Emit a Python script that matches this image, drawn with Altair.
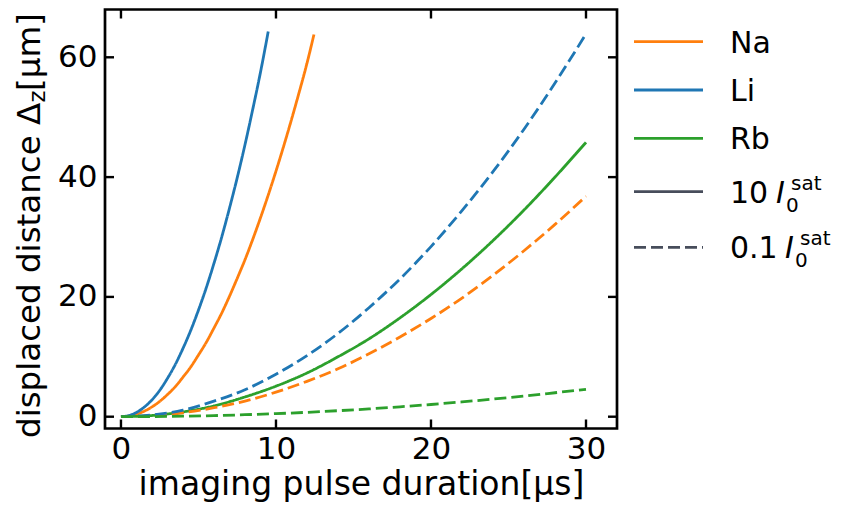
import altair as alt
import pandas as pd

# ---------------- data ----------------
species = ["Na", "Li", "Rb"]
colors = ["#ff7f0e", "#1f77b4", "#2ca02c"]
intensities = ["10", "0.1"]

x_ticks = [0, 10, 20, 30]
y_ticks = [0, 20, 40, 60]

# Li, 10 I_sat (solid blue)
t_li_high = [0, 0.5, 1, 1.5, 2, 2.5, 3, 3.5, 4, 4.5, 5, 5.5, 6, 6.5, 7, 7.5, 8, 8.5, 9, 9.5]
z_li_high = [0, 0.18, 0.71, 1.6, 2.8, 4.4, 6.4, 8.7, 11.4, 14.4, 17.8, 21.5, 25.6, 30.0,
             34.8, 39.9, 45.4, 51.3, 57.5, 64.3]

# Na, 10 I_sat (solid orange)
t_na_high = [0, 0.5, 1, 1.5, 2, 2.5, 3, 3.5, 4, 4.5, 5, 5.5, 6, 6.5, 7, 7.5, 8, 8.5, 9, 9.5,
             10, 10.5, 11, 11.5, 12, 12.45]
z_na_high = [0, 0.1, 0.41, 0.92, 1.64, 2.56, 3.7, 5.0, 6.6, 8.3, 10.3, 12.4, 14.8, 17.3, 20.1,
             23.1, 26.2, 29.6, 33.2, 37.0, 41.0, 45.2, 49.6, 54.2, 59.0, 63.8]

# long pulses (0 .. 30 us)
t_long = [0, 2, 4, 6, 8, 10, 12, 14, 16, 18, 20, 22, 24, 26, 28, 30]
z_rb_high = [0, 0.2, 0.8, 1.8, 3.3, 5.1, 7.3, 10.0, 13.0, 16.5, 20.4, 24.7, 29.4, 34.5, 40.0, 45.8]
z_li_low = [0, 0.28, 1.1, 2.6, 4.5, 7.1, 10.2, 13.9, 18.2, 23.0, 28.4, 34.4, 40.9, 48.0, 55.7, 63.9]
z_na_low = [0, 0.16, 0.66, 1.5, 2.6, 4.1, 5.9, 8.0, 10.5, 13.3, 16.4, 19.8, 23.6, 27.7, 32.1, 36.8]
z_rb_low = [0, 0.02, 0.08, 0.18, 0.33, 0.51, 0.73, 1.0, 1.3, 1.65, 2.04, 2.47, 2.94, 3.45, 4.0, 4.56]

rows = []


def add(ts, zs, sp, inten):
    for t, z in zip(ts, zs):
        rows.append({"t": t, "z": z, "species": sp, "intensity": inten})


add(t_na_high, z_na_high, "Na", "10")
add(t_li_high, z_li_high, "Li", "10")
add(t_long, z_rb_high, "Rb", "10")
add(t_long, z_na_low, "Na", "0.1")
add(t_long, z_li_low, "Li", "0.1")
add(t_long, z_rb_low, "Rb", "0.1")
df = pd.DataFrame(rows)
df["series"] = df["species"] + "_" + df["intensity"]

# ---------------- layout ----------------
W, H = 512, 419
FONT = "DejaVu Sans"
xscale = alt.Scale(domain=[-1.03, 32.0], nice=False, zero=False)
yscale = alt.Scale(domain=[-1.97, 67.98], nice=False, zero=False)
DASH = [12, 5]
LW = 2.8

xaxis = alt.Axis(values=x_ticks, title="imaging pulse duration[μs]", format="d",
                 labelFontSize=31, labelPadding=6, titleFontSize=33, titlePadding=4)
yaxis = alt.Axis(values=y_ticks, title=None, format="d", labelFontSize=31, labelPadding=8)

lines = alt.Chart(df).mark_line(strokeWidth=LW, interpolate="monotone", clip=True).encode(
    x=alt.X("t:Q", scale=xscale, axis=xaxis),
    y=alt.Y("z:Q", scale=yscale, axis=yaxis),
    color=alt.Color("species:N", scale=alt.Scale(domain=species, range=colors), legend=None),
    strokeDash=alt.StrokeDash("intensity:N", scale=alt.Scale(domain=intensities, range=[[1, 0], DASH]),
                              legend=None),
    detail="series:N",
    order=alt.Order("t:Q"),
)

xt = pd.DataFrame({"t": x_ticks})
yt = pd.DataFrame({"z": y_ticks})
TK = 9


def xtick(y1, y2):
    return alt.Chart(xt).mark_rule(color="black", strokeWidth=2.4).encode(
        x=alt.X("t:Q", scale=xscale, axis=xaxis), y=alt.value(y1), y2=alt.value(y2))


def ytick(x1, x2):
    return alt.Chart(yt).mark_rule(color="black", strokeWidth=2.4).encode(
        y=alt.Y("z:Q", scale=yscale, axis=yaxis), x=alt.value(x1), x2=alt.value(x2))


one = pd.DataFrame({"k": [0]})


def txt(s, x, y, size, angle=0, style="normal", align="left"):
    return alt.Chart(one).mark_text(text=s, font=FONT, fontSize=size, fontStyle=style, align=align,
                                    baseline="alphabetic", angle=angle, color="black").encode(
        x=alt.value(x), y=alt.value(y))


def seg(y, color, dashed=False):
    if dashed:
        m = alt.Chart(one).mark_rule(color=color, strokeWidth=LW, strokeDash=DASH)
    else:
        m = alt.Chart(one).mark_rule(color=color, strokeWidth=LW)
    return m.encode(x=alt.value(529), x2=alt.value(598), y=alt.value(y))


LEG_GRAY = "#474d5b"
LF = 30
SF = 20
layers = [lines, xtick(H, H - TK), xtick(0, TK), ytick(0, TK), ytick(W - TK, W)]

# y-axis title: displaced distance Δ_z[μm]  (pieces, rotated)
YT = 32.5
layers += [
    txt("displaced distance Δ", -65, 428.5, YT, angle=270),
    txt("z", -60, 93.1, 23, angle=270),
    txt("[μm]", -65, 81.4, YT, angle=270),
]

# legend
leg_y = [32.2, 80.5, 128.8, 182.2, 237.8]
for i, (sp, c) in enumerate(zip(species, colors)):
    layers.append(seg(leg_y[i], c))
    layers.append(txt(sp, 625, leg_y[i] + 10.9, LF))
for j, (lab, dashed, ix) in enumerate([("10", False, 671), ("0.1", True, 680)]):
    yy = leg_y[3 + j]
    base = yy + 10.9
    layers.append(seg(yy, LEG_GRAY, dashed))
    layers.append(txt(lab, 625, base, LF))
    layers.append(txt("I", ix, base, LF, style="italic"))
    layers.append(txt("0", ix + 10, base + 9, SF))
    layers.append(txt("sat", ix + 15, base - 13, SF))

chart = alt.layer(*layers).properties(
    width=W, height=H,
    autosize=alt.AutoSizeParams(type="none"),
    padding={"left": 97, "top": 1.5, "right": 217, "bottom": 76.5},
).configure_view(
    stroke="black", strokeWidth=2.7
).configure_axis(
    domain=False, ticks=False, grid=False, labelFont=FONT, titleFont=FONT,
    labelColor="black", titleColor="black", titleFontWeight="normal",
)

chart.save("out.html", embed_options={"renderer": "svg", "actions": False})
